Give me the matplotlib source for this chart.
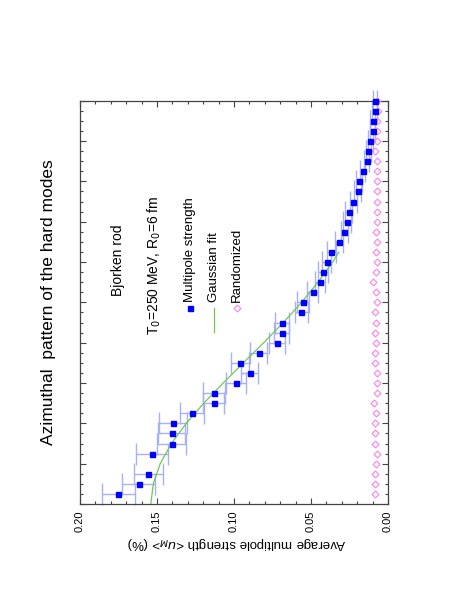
import numpy as np
import matplotlib
matplotlib.use("Agg")
import matplotlib.pyplot as plt
from matplotlib.ticker import MultipleLocator

plt.rcParams["font.family"] = ["Liberation Sans", "DejaVu Sans"]

# ------------------------------------------------------------
# data (page is shown rotated by 90 deg)
# ------------------------------------------------------------
multipole = np.arange(1, 41)

strength = [0.1751, 0.1617, 0.1556, np.nan, 0.1533, 0.1405, 0.1404, 0.1396,
            0.1273, 0.1132, 0.1128, 0.0989, 0.0898, 0.0959, 0.0840, 0.0721,
            0.0690, 0.0690, 0.0563, 0.0552, 0.0489, 0.0443, 0.0422, 0.0398,
            0.0368, 0.0319, 0.0283, 0.0267, 0.0255, 0.0225, 0.0197, 0.0188,
            0.0165, 0.0139, 0.0128, 0.0115, 0.0099, 0.0099, 0.0086, 0.0086]

strength_err = [0.0108, 0.0107, 0.0093, np.nan, 0.0103, 0.0093, 0.0089, 0.0092,
                0.0078, 0.0067, 0.0072, 0.0065, 0.0055, 0.0058, 0.0056, 0.0052,
                0.0049, 0.0046, 0.0042, 0.0038, 0.0036, 0.0032, 0.0031, 0.0029,
                0.0028, 0.0026, 0.0025, 0.0024, 0.0023, 0.0022, 0.0021, 0.0020,
                0.0019, 0.0018, 0.0017, 0.0016, 0.0016, 0.0015, 0.0015, 0.0014]

randomized = [0.0087, 0.0084, 0.0086, 0.0078, 0.0072, 0.0087, 0.0082, 0.0084,
              0.0077, 0.0088, 0.0074, 0.0074, 0.0074, 0.0087, 0.0082, 0.0078,
              0.0087, 0.0078, 0.0087, 0.0072, 0.0080, 0.0095, 0.0080, 0.0072,
              0.0080, 0.0072, 0.0078, 0.0074, 0.0074, 0.0074, 0.0074, 0.0074,
              0.0074, 0.0074, 0.0082, 0.0069, 0.0074, 0.0074, 0.0065, 0.0074]

fit_m = [0, 2, 4, 6, 8, 10, 12, 14, 16, 18, 20, 22, 24, 25]
fit_val = [0.1540, 0.1524, 0.1479, 0.1406, 0.1310, 0.1196, 0.1070, 0.0939,
           0.0807, 0.0679, 0.0561, 0.0454, 0.0360, 0.0318]

BLUE = "#0000ff"
ERR = "#a9b1f2"
GREEN = "#72c855"
PINK = "#ff80f0"

# ------------------------------------------------------------
fig = plt.figure(figsize=(4.68, 6.05), dpi=100)
ax = fig.add_axes([0.1709, 0.1669, 0.6581, 0.6667])

ax.errorbar(strength, multipole, xerr=strength_err, fmt="none",
            ecolor=ERR, elinewidth=1.0, capsize=8, capthick=1.0,
            clip_on=False, zorder=2)
ax.plot(strength, multipole, "s", color=BLUE, ms=3.6, mec=BLUE,
        clip_on=False, zorder=4)
ax.plot(fit_val, fit_m, "-", color=GREEN, lw=0.9, zorder=3)
ax.plot(randomized, multipole, "D", mfc="none", mec=PINK, mew=0.8, ms=3.5,
        clip_on=False, zorder=3)

ax.set_xlim(0.20, 0.0)
ax.set_ylim(0, 40)
ax.xaxis.set_major_locator(MultipleLocator(0.05))
ax.xaxis.set_minor_locator(MultipleLocator(0.01))
ax.yaxis.set_major_locator(MultipleLocator(4))
ax.yaxis.set_minor_locator(MultipleLocator(1))
ax.set_xticklabels([f"{v:.2f}" for v in ax.get_xticks()])
ax.tick_params(which="both", direction="in", top=True, right=True,
               width=0.8, color="#444444")
ax.tick_params(which="major", length=4.5)
ax.tick_params(which="minor", length=2.5)
ax.tick_params(axis="x", labelrotation=90, labelsize=8, pad=5)
ax.tick_params(axis="y", labelleft=False)
for s in ax.spines.values():
    s.set_linewidth(0.9)
    s.set_color("#444444")

# texts and legend (rotated along with the page)
ax.text(0.123, 0.605, "Bjorken rod", transform=ax.transAxes, rotation=90,
        ha="center", va="center", fontsize=10)
ax.text(0.240, 0.593, "T$_0$=250 MeV, R$_0$=6 fm", transform=ax.transAxes,
        rotation=90, ha="center", va="center", fontsize=10)

ax.plot([0.357], [0.486], "s", color=BLUE, ms=3.6, transform=ax.transAxes)
ax.text(0.357, 0.501, "Multipole strength", transform=ax.transAxes,
        rotation=90, ha="center", va="bottom", fontsize=9.5)
ax.plot([0.434, 0.434], [0.4265, 0.486], "-", color=GREEN, lw=0.9,
        transform=ax.transAxes)
ax.text(0.434, 0.501, "Gaussian fit", transform=ax.transAxes,
        rotation=90, ha="center", va="bottom", fontsize=9.5)
ax.plot([0.510], [0.486], "D", mfc="none", mec=PINK, mew=0.8, ms=3.5,
        transform=ax.transAxes)
ax.text(0.510, 0.501, "Randomized", transform=ax.transAxes,
        rotation=90, ha="center", va="bottom", fontsize=9.5)

fig.text(0.1026, 0.501, "Azimuthal  pattern of the hard modes", rotation=90,
         ha="center", va="center", fontsize=12.5)
fig.text(0.506, 0.1025, "Average multipole strength <$u_M$> (%)",
         rotation=180, ha="center", va="center", fontsize=9.5)

fig.savefig("out.png", dpi=100)
